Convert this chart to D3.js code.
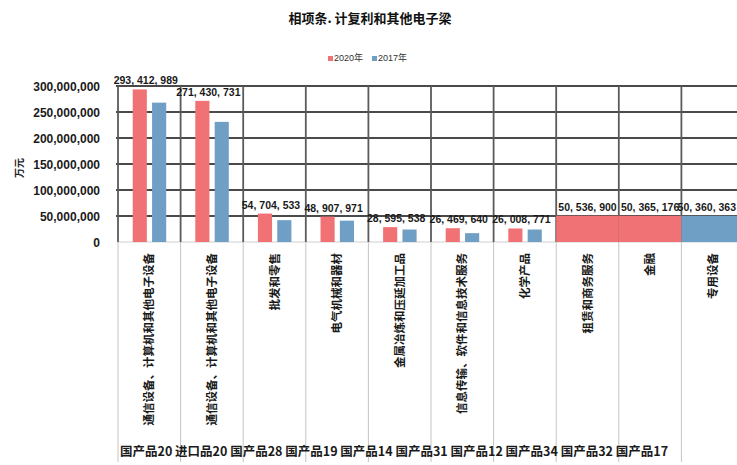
<!DOCTYPE html>
<html><head><meta charset="utf-8">
<script src="https://cdn.jsdelivr.net/npm/d3@7"></script>
<style>body{margin:0;background:#fff}svg{display:block}</style>
</head><body>
<svg id="c" width="737" height="465"></svg>
<script>
const title = "相项条. 计复利和其他电子梁";
const yTitle = "万元";
const seriesNames = ["2020年", "2017年"];
const categories = [
  "通信设备、计算机和其他电子设备",
  "通信设备、计算机和其他电子设备",
  "批发和零售",
  "电气机械和器材",
  "金属冶炼和压延加工品",
  "信息传输、软件和信息技术服务",
  "化学产品",
  "租赁和商务服务",
  "金融",
  "专用设备"
];
const codes = ["国产品20","进口品20","国产品28","国产品19","国产品14","国产品31","国产品12","国产品34","国产品32","国产品17"];
const values2020 = [293412989, 271430731, 54704533, 48907971, 28595538, 26469640, 26008771, 50536900, 50365176, null];
const values2017 = [268000000, 231000000, 42000000, 41000000, 24000000, 17000000, 24000000, null, null, 50360363];
const yTicks = [0, 50000000, 100000000, 150000000, 200000000, 250000000, 300000000];

const colors = ["#f07274", "#709fc6"];
const svg = d3.select("#c");
const font = "'Liberation Sans', 'Noto Sans CJK SC', sans-serif";
const cjk = "'Noto Sans CJK SC', sans-serif";
const W = 737;

const plotLeft = 118, plotTop = 86, baseY = 242, bottomArea = 462;
const x = d3.scaleBand().domain(d3.range(categories.length)).range([plotLeft, plotLeft + 62.6 * categories.length]).padding(0);
const y = d3.scaleLinear().domain([0, 300000000]).range([baseY, plotTop]);
const bw = x.bandwidth();
const xs = d3.scaleBand().domain([0, 1]).range([bw * 0.235, bw * 0.77]).paddingInner(0.27);

// title
svg.append("text").attr("x", 370).attr("y", 23).attr("text-anchor", "middle")
  .attr("font-family", cjk).attr("font-weight", "bold").attr("font-size", 13).attr("fill", "#111").text(title);

// legend
const lg = svg.append("g").attr("transform", "translate(328,60)");
seriesNames.forEach((s, i) => {
  const g = lg.append("g").attr("transform", `translate(${i * 44},0)`);
  g.append("rect").attr("x", 0).attr("y", -4).attr("width", 5).attr("height", 5).attr("fill", colors[i]);
  g.append("text").attr("x", 6).attr("y", 1).attr("font-family", font).attr("font-size", 9).attr("fill", "#333").text(s);
});

// vertical lines in label area
const bounds = d3.range(categories.length + 1).map(i => plotLeft + i * bw);
svg.append("g").selectAll("line").data(bounds).join("line")
  .attr("x1", d => d).attr("x2", d => d).attr("y1", baseY).attr("y2", bottomArea)
  .attr("stroke", "#c4c4c4").attr("stroke-width", 1);

// horizontal gridlines
svg.append("g").selectAll("line").data(yTicks.slice(1)).join("line")
  .attr("x1", plotLeft - 2).attr("x2", W).attr("y1", d => y(d)).attr("y2", d => y(d))
  .attr("stroke", "#4a4a4a").attr("stroke-width", 2.2);
svg.append("line").attr("x1", plotLeft).attr("x2", W).attr("y1", baseY).attr("y2", baseY)
  .attr("stroke", "#cfcfcf").attr("stroke-width", 1);
// vertical gridlines in plot
svg.append("g").selectAll("line").data(bounds).join("line")
  .attr("x1", d => d).attr("x2", d => d).attr("y1", plotTop).attr("y2", baseY)
  .attr("stroke", "#5a5a5a").attr("stroke-width", 1.8);

// y axis
const yAxis = d3.axisLeft(y).tickValues(yTicks).tickSize(0).tickPadding(0).tickFormat(d3.format(","));
const ya = svg.append("g").attr("transform", `translate(${plotLeft - 18},0)`).call(yAxis);
ya.select(".domain").remove();
ya.selectAll("text").attr("font-family", font).attr("font-weight", "bold").attr("font-size", 12).attr("fill", "#1a1a1a").attr("dy", "0.35em");

svg.append("text").attr("transform", `translate(23,168) rotate(-90)`).attr("text-anchor", "middle")
  .attr("font-family", cjk).attr("font-weight", "bold").attr("font-size", 10).attr("fill", "#222").text(yTitle);

// bars
const series = [values2020, values2017];
const bars = [];
categories.forEach((c, i) => {
  series.forEach((vals, s) => {
    const v = vals[i];
    if (v == null) return;
    const other = series[1 - s][i];
    const wide = other == null;
    bars.push({i, s, v, x0: wide ? x(i) : x(i) + xs(s), w: wide ? bw : xs.bandwidth()});
  });
});
svg.append("g").selectAll("rect").data(bars).join("rect")
  .attr("x", d => d.x0).attr("width", d => Math.min(d.w, W - d.x0))
  .attr("y", d => y(d.v)).attr("height", d => baseY - y(d.v))
  .attr("fill", d => colors[d.s]);

// data labels
const fmt = v => d3.format(",")(v).replace(/,/g, ", ");
const labelData = bars.filter(d => d.s === 0 || series[0][d.i] == null);
svg.append("g").selectAll("text").data(labelData).join("text")
  .attr("x", d => d.w > bw * 0.5 ? d.x0 + d.w / 2 : x(d.i) + xs(0) + xs.bandwidth() / 2 + 6)
  .attr("y", d => y(d.v) - 5)
  .attr("text-anchor", "middle")
  .attr("font-family", font).attr("font-weight", "bold").attr("font-size", 10.5).attr("fill", "#1a1a1a")
  .text(d => fmt(d.v))
  .each(function() {
    const b = this.getBBox();
    if (b.x + b.width > W - 1) d3.select(this).attr("x", W - 1).attr("text-anchor", "end");
  });

// category labels (rotated)
svg.append("g").selectAll("text").data(categories).join("text")
  .attr("transform", (d, i) => `translate(${x(i) + bw / 2 + 4},253) rotate(-90)`)
  .attr("text-anchor", "end")
  .attr("font-family", cjk).attr("font-weight", "bold").attr("font-size", 11.5).attr("fill", "#1a1a1a")
  .text(d => d);

// code row
svg.append("text").attr("x", 120).attr("y", 456)
  .attr("font-family", cjk).attr("font-weight", "bold").attr("font-size", 12.5).attr("fill", "#1a1a1a")
  .text(codes.join(" "));
</script>
</body></html>
